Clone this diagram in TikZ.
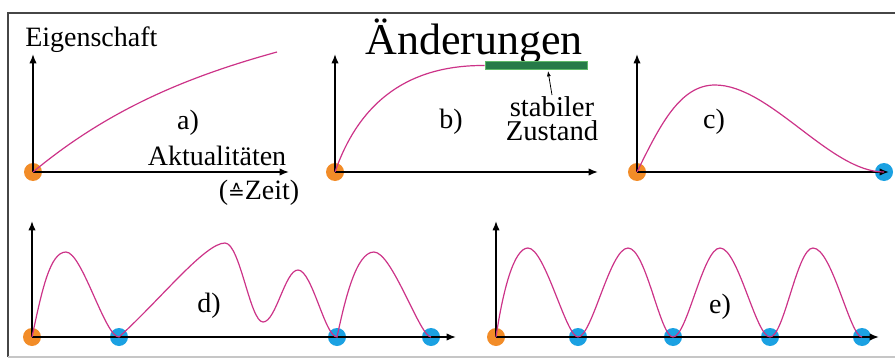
\documentclass[tikz,border=0pt]{standalone}
\usepackage{fontspec}
\setmainfont{Liberation Serif}
\newfontfamily\zeichenfont{DejaVu Sans}
\usetikzlibrary{arrows.meta}
\definecolor{kurve}{RGB}{204,51,136}
\definecolor{startorange}{RGB}{242,140,40}
\definecolor{nullblau}{RGB}{27,161,226}
\definecolor{stabilgruen}{RGB}{38,122,72}
\definecolor{randgruen}{RGB}{95,185,105}
\definecolor{rahmen}{RGB}{70,70,70}

\begin{document}
\begin{tikzpicture}[x=0.75pt, y=-0.75pt,
    achse/.style={line width=1.1pt, -{Latex[length=7pt,width=5.5pt]}},
    verlauf/.style={kurve, line width=0.9pt},
    startpunkt/.style={circle, fill=startorange, minimum size=13.5pt, inner sep=0pt},
    nullpunkt/.style={circle, fill=nullblau, minimum size=13.5pt, inner sep=0pt},
    beschriftung/.style={font=\fontsize{21}{21}\selectfont, inner sep=0pt}]
      \useasboundingbox (0,0) rectangle (895,360);
      % Rahmen
      \draw[rahmen, line width=1.1pt] (8,357) -- (8,13) -- (895,13);
      \draw[gray!45, line width=0.9pt] (8,357) -- (895,357);
      \node[font=\fontsize{33}{33}\selectfont, inner sep=0pt, anchor=base] (titel) at (474,55) {Änderungen};
      % a)
      \node[startpunkt] (oa) at (33,172) {};
      \draw[achse] (33,172) -- (33,54);
      \draw[achse] (33,172) -- (289,172);
      \draw[verlauf] (33,172) .. controls (110,108) and (190,76) .. (277,52);
      \node[beschriftung, anchor=base west] (eig) at (25,47) {Eigenschaft};
      \node[beschriftung, anchor=base] (la) at (188,129) {a)};
      \node[beschriftung, anchor=base] (akt) at (217,165) {Aktualitäten};
      \node[beschriftung, anchor=base] (zeit) at (259,199) {({\zeichenfont\fontsize{15}{15}\selectfont ≙}Zeit)};
      % b)
      \node[startpunkt] (ob) at (335,172) {};
      \draw[achse] (335,172) -- (335,54);
      \draw[achse] (335,172) -- (598,172);
      \node[fill=stabilgruen, draw=randgruen, line width=0.8pt, minimum width=77pt, minimum height=6pt, inner sep=0pt] (balken) at (536.5,65.5) {};
      \draw[verlauf] (335,172) .. controls (360,100) and (410,65) .. (balken.west);
      \node[beschriftung, anchor=base] (lb) at (451,128) {b)};
      \node[font=\fontsize{21.5}{18}\selectfont, align=center, inner sep=1pt, anchor=north] (stab) at (552,95) {stabiler\\Zustand};
      \coordinate (spitze) at (548,71);
      \draw[line width=0.6pt, -{Latex[length=4pt,width=3pt]}] (stab.north) -- (spitze);
      % c)
      \node[startpunkt] (oc) at (637,172) {};
      \node[nullpunkt] (nc) at (884,172) {};
      \draw[achse] (637,172) -- (637,54);
      \draw[achse] (637,172) -- (889,172);
      \draw[verlauf] (oc.center) .. controls (660,125) and (680,85) .. (715,85)
            .. controls (770,85) and (830,172) .. (nc.center);
      \node[beschriftung, anchor=base] (lc) at (714,128) {c)};
      % d)
      \node[startpunkt] (od) at (32,337) {};
      \node[nullpunkt] (nd1) at (119,337) {};
      \node[nullpunkt] (nd2) at (337,337) {};
      \node[nullpunkt] (nd3) at (431,337) {};
      \draw[achse] (32,337) -- (32,221);
      \draw[achse] (32,337) -- (456,337);
      \draw[verlauf] (od.center) .. controls (42,290) and (50,252) .. (66,252)
            .. controls (82,252) and (105,337) .. (nd1.center)
            .. controls (160,300) and (205,243) .. (225,243)
            .. controls (240,243) and (250,322) .. (263,322)
            .. controls (276,322) and (285,270) .. (298,270)
            .. controls (312,270) and (325,337) .. (nd2.center)
            .. controls (345,300) and (356,252) .. (374,252)
            .. controls (392,252) and (420,337) .. (nd3.center);
      \node[beschriftung, anchor=base] (ld) at (209,312) {d)};
      % e)
      \node[startpunkt] (oe) at (496,337) {};
      \node[nullpunkt] (ne1) at (578,337) {};
      \node[nullpunkt] (ne2) at (673,337) {};
      \node[nullpunkt] (ne3) at (770,337) {};
      \node[nullpunkt] (ne4) at (862,337) {};
      \draw[achse] (496,337) -- (496,221);
      \draw[achse] (496,337) -- (879,337);
      \draw[verlauf] (oe.center) .. controls (503,290) and (514,248) .. (528,248)
            .. controls (545,248) and (566,337) .. (ne1.center)
            .. controls (592,337) and (610,248) .. (628,248)
            .. controls (646,248) and (660,337) .. (ne2.center)
            .. controls (687,337) and (703,248) .. (720,248)
            .. controls (738,248) and (756,337) .. (ne3.center)
            .. controls (784,337) and (797,248) .. (813,248)
            .. controls (832,248) and (850,337) .. (ne4.center);
      \node[beschriftung, anchor=base] (le) at (720,313) {e)};
\end{tikzpicture}
\end{document}
